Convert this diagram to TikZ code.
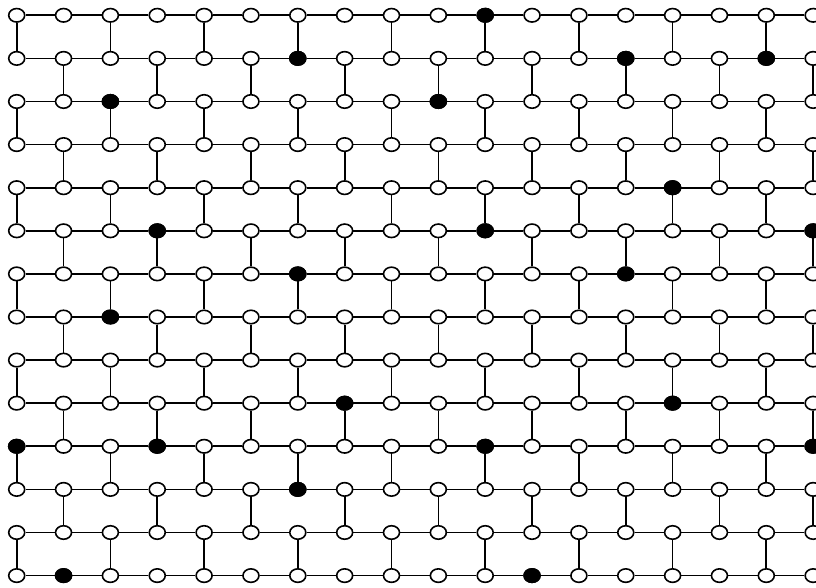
\documentclass[tikz,border=0pt]{standalone}
\usetikzlibrary{shapes.geometric}
\begin{document}
\begin{tikzpicture}[x=1pt,y=1pt,
  site/.style={ellipse,draw=black,line width=1.6pt,fill=white,minimum width=16pt,minimum height=13.5pt,inner sep=0pt},
  occ/.style={site,fill=black},
  bond/.style={draw=black,line width=1.7pt}]
\useasboundingbox (0,0) rectangle (816,588);
\foreach \r in {0,...,13}{
  \foreach \c in {0,...,17}{
    \node[site] (n-\r-\c) at ({16.7+\c*46.85},{588-15.3-\r*43.1}) {};
  }
}
% horizontal bonds
\foreach \r in {0,...,13}{
  \foreach \c in {0,...,16}{
    \pgfmathtruncatemacro\cc{\c+1}
    \draw[bond] (n-\r-\c) -- (n-\r-\cc);
  }
}
% vertical bonds (brick pattern)
\foreach \r in {0,...,12}{
  \pgfmathtruncatemacro\rr{\r+1}
  \pgfmathtruncatemacro\s{mod(\r,2)}
  \pgfmathtruncatemacro\sp{\s+2}
  \foreach \c in {\s,\sp,...,17}{
    \draw[bond] (n-\r-\c) -- (n-\rr-\c);
  }
}
% occupied sites
\foreach \r/\c in {0/10,1/6,1/13,1/16,2/2,2/9,4/14,5/3,5/10,5/17,6/6,6/13,7/2,9/7,9/14,10/0,10/3,10/10,10/17,11/6,13/1,13/11}{
  \node[occ] (b-\r-\c) at (n-\r-\c) {};
}
\end{tikzpicture}
\end{document}
